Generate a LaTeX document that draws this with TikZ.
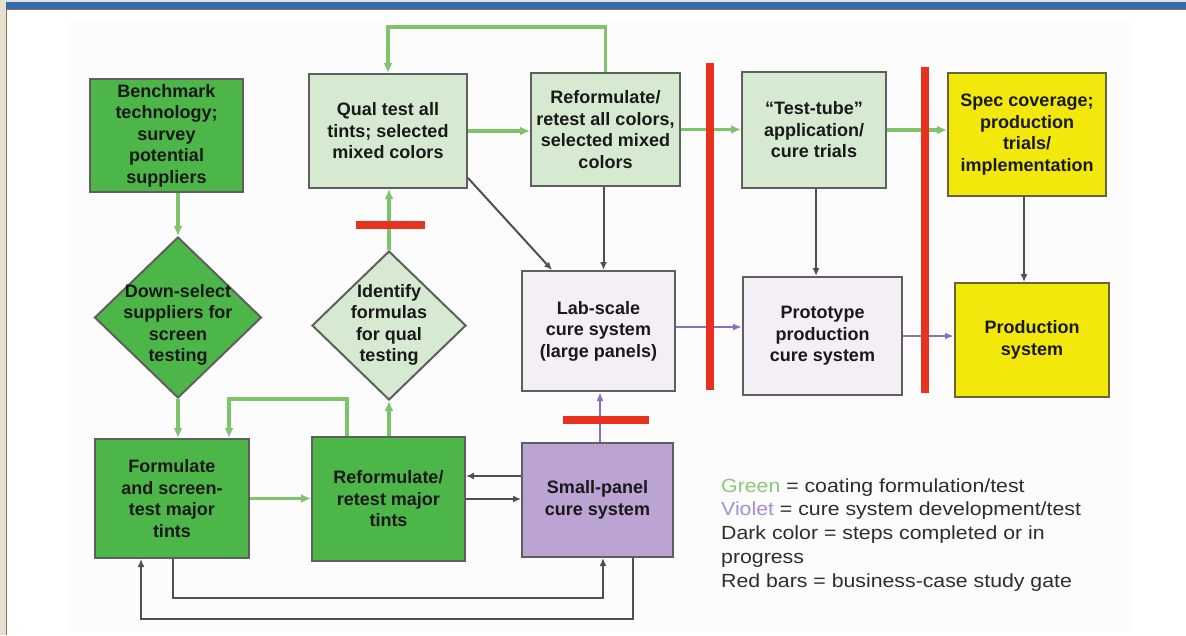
\documentclass[tikz,border=0pt]{standalone}
\usepackage{fontspec}
\setmainfont{Liberation Sans}
\newfontfamily\legendfont[FakeStretch=1.12]{Liberation Sans}
\usetikzlibrary{shapes.geometric,arrows.meta,calc}

\definecolor{dkgreen}{RGB}{77,182,72}
\definecolor{ltgreen}{RGB}{214,234,210}
\definecolor{ltviolet}{RGB}{244,238,246}
\definecolor{violetfill}{RGB}{187,163,212}
\definecolor{yellowfill}{RGB}{243,232,12}
\definecolor{redbar}{RGB}{232,50,30}
\definecolor{gline}{RGB}{125,196,106}
\definecolor{vline}{RGB}{140,110,190}
\definecolor{dline}{RGB}{80,80,80}
\definecolor{bordergray}{RGB}{95,95,95}
\definecolor{borderolive}{RGB}{105,100,55}
\definecolor{txt}{RGB}{25,25,25}
\definecolor{legtext}{RGB}{45,45,45}
\definecolor{leggreen}{RGB}{140,200,122}
\definecolor{legviolet}{RGB}{165,143,208}
\definecolor{framebeige}{RGB}{230,224,207}
\definecolor{frameblue}{RGB}{46,109,180}
\definecolor{framebrown}{RGB}{165,105,60}
\definecolor{panel}{RGB}{252,252,252}

\tikzset{
  box/.style={draw=bordergray, line width=2pt, align=center, inner sep=0pt,
    font=\bfseries\fontsize{18}{21.5}\selectfont, text=txt},
  dgbox/.style={box, fill=dkgreen},
  lgbox/.style={box, fill=ltgreen},
  lvbox/.style={box, fill=ltviolet},
  vbox/.style={box, fill=violetfill},
  ybox/.style={box, fill=yellowfill, draw=borderolive},
  dtext/.style={align=center, inner sep=0pt, font=\bfseries\fontsize{18}{21.5}\selectfont, text=txt},
  garrow/.style={draw=gline, line width=3.2pt, -{Latex[length=10pt,width=9pt]}},
  darrow/.style={draw=dline, line width=2pt, -{Latex[length=8pt,width=7pt]}},
  varrow/.style={draw=vline, line width=2pt, -{Latex[length=9pt,width=7pt]}},
  gatebar/.style={draw=redbar, line width=8.5pt},
  legline/.style={anchor=base west, inner sep=0pt, font=\legendfont\fontsize{19}{23.8}\selectfont, text=legtext}
}

\begin{document}
\begin{tikzpicture}[x=1pt,y=-1pt]
\useasboundingbox (0,0) rectangle (1186,635);
\fill[white] (0,0) rectangle (1186,635);
% frame
\fill[framebeige] (0,0) rectangle (1186,2.5);
\fill[framebeige] (0,0) rectangle (6,635);
\fill[frameblue] (6,2) rectangle (1186,8.8);
\fill[framebrown] (6,8.6) rectangle (1186,9.6);
\fill[framebrown] (6,8.6) rectangle (7.2,635);
\fill[panel] (70,22) rectangle (1130,632);

% boxes
\node[dgbox, minimum width=153pt, minimum height=113pt] (bench) at (166.5,135.5) {Benchmark\\technology;\\survey\\potential\\suppliers};
\node[lgbox, minimum width=158pt, minimum height=114pt] (qual) at (388,131) {Qual test all\\tints; selected\\mixed colors};
\node[lgbox, minimum width=149pt, minimum height=113pt] (refall) at (605.5,129.5) {Reformulate/\\retest all colors,\\selected mixed\\colors};
\node[lgbox, minimum width=144pt, minimum height=116pt] (tube) at (814,130) {“Test-tube”\\application/\\cure trials};
\node[ybox, minimum width=158pt, minimum height=123pt] (spec) at (1027,134.5) {Spec coverage;\\production\\trials/\\implementation};
\node[lvbox, minimum width=153pt, minimum height=120pt] (lab) at (598.5,331) {Lab-scale\\cure system\\(large panels)};
\node[lvbox, minimum width=159pt, minimum height=118pt] (proto) at (822.5,336) {Prototype\\production\\cure system};
\node[ybox, minimum width=154pt, minimum height=114pt] (prod) at (1032,340) {Production\\system};
\node[dgbox, minimum width=154pt, minimum height=119pt] (form) at (172,498.5) {Formulate\\and screen-\\test major\\tints};
\node[dgbox, minimum width=153pt, minimum height=124pt] (refmaj) at (388.5,499) {Reformulate/\\retest major\\tints};
\node[vbox, minimum width=151pt, minimum height=114pt] (small) at (597.5,500) {Small-panel\\cure system};

% diamonds
\node[diamond, draw=bordergray, line width=2pt, fill=dkgreen, inner sep=0pt,
      minimum width=167pt, minimum height=161pt] (dsel) at (178,317.5) {};
\node[dtext] (dseltext) at (178,325) {Down-select\\suppliers for\\screen\\testing};
\node[diamond, draw=bordergray, line width=2pt, fill=ltgreen, inner sep=0pt,
      minimum width=154pt, minimum height=149pt] (ident) at (389,325.5) {};
\node[dtext] (identtext) at (389,325) {Identify\\formulas\\for qual\\testing};

% green connectors
\draw[garrow] (dsel.north |- bench.south) -- (dsel.north);
\draw[garrow] (dsel.south) -- (dsel.south |- form.north);
\draw[garrow] (form.east) -- (form.east -| refmaj.west);
\draw[garrow] ($(refmaj.north)+(-41.5,0)$) -- ++(0,-37) -| ($(form.north)+(57,0)$);
\draw[garrow] (ident.south |- refmaj.north) -- (ident.south);
\draw[garrow] (ident.north) -- (ident.north |- qual.south);
\draw[garrow] (qual.east) -- (qual.east -| refall.west);
\draw[garrow] (refall.north) -- ++(0,-45) -| (qual.north);
\draw[garrow] (refall.east) -- (refall.east -| tube.west);
\draw[garrow] (tube.east) -- (tube.east -| spec.west);

% dark connectors
\draw[darrow] ($(qual.south east)+(0,-11)$) -- ($(lab.north west)+(31,0)$);
\draw[darrow] ($(refall.south)+(-2,0)$) -- ($(refall.south |- lab.north)+(-2,0)$);
\draw[darrow] ($(tube.south)+(2,0)$) -- ($(tube.south |- proto.north)+(2,0)$);
\draw[darrow] ($(spec.south)+(-3,0)$) -- ($(spec.south |- prod.north)+(-3,0)$);
\draw[darrow] ($(small.west)+(0,-24)$) -- ($(refmaj.east)+(0,-23)$);
\draw[darrow] (refmaj.east) -- (refmaj.east -| small.west);
\draw[darrow] ($(form.south)+(1,0)$) -- ++(0,39) -| ($(small.south)+(5.5,0)$);
\draw[darrow] ($(small.south)+(35.5,0)$) -- ++(0,61) -| ($(form.south)+(-31,0)$);

% violet connectors
\draw[varrow] ($(lab.east)+(0,-4)$) -- ($(proto.west)+(0,-9)$);
\draw[varrow] (proto.east) -- ($(prod.west)+(0,-4)$);
\draw[varrow] ($(small.north)+(2.5,0)$) -- ($(lab.south)+(1.5,0)$);

% red gate bars
\draw[gatebar, line width=8pt] (710,63) -- (710,390);
\draw[gatebar, line width=8pt] (925,67) -- (925,393);
\draw[gatebar] (356,225) -- (425,225);
\draw[gatebar] (563,420) -- (649,420);

% legend
\node[legline] (leg1) at (721,492) {\textcolor{leggreen}{Green} = coating formulation/test};
\node[legline] (leg2) at (721,515.8) {\textcolor{legviolet}{Violet} = cure system development/test};
\node[legline] (leg3) at (721,539.6) {Dark color = steps completed or in};
\node[legline] (leg4) at (721,563.4) {progress};
\node[legline] (leg5) at (721,587.2) {Red bars = business-case study gate};
\end{tikzpicture}
\end{document}
